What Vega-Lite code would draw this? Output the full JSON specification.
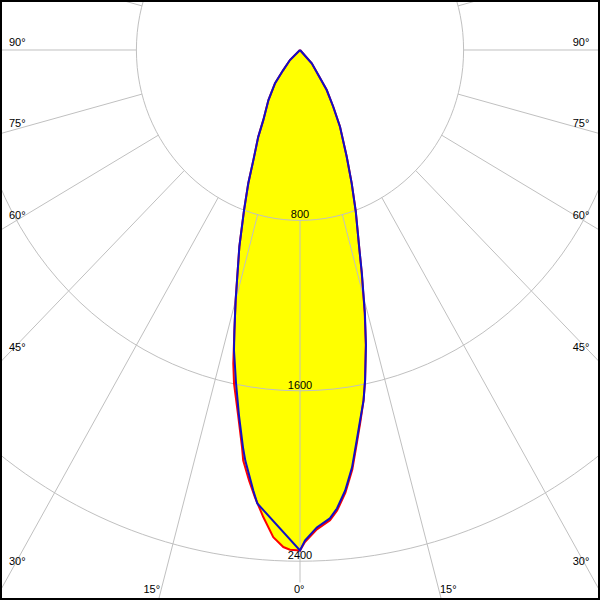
{
  "$schema": "https://vega.github.io/schema/vega-lite/v6.json",
  "width": 596,
  "height": 596,
  "padding": 2,
  "autosize": {"type": "none"},
  "background": "black",
  "config": {
    "view": {"fill": "white", "stroke": null},
    "text": {"font": "Liberation Sans", "fontSize": 11, "fill": "#000000"}
  },
  "datasets": {
    "curves": [
      {"s":"red","i":0,"a":-46,"r":0},{"s":"red","i":1,"a":-46.2,"r":68},{"s":"red","i":2,"a":-41,"r":125},{"s":"red","i":3,"a":-38,"r":198},{"s":"red","i":4,"a":-33.3,"r":281},{"s":"red","i":5,"a":-28.6,"r":375},{"s":"red","i":6,"a":-26.6,"r":456},{"s":"red","i":7,"a":-23.8,"r":565},{"s":"red","i":8,"a":-22,"r":675},{"s":"red","i":9,"a":-20,"r":800},{"s":"red","i":10,"a":-17.8,"r":970},{"s":"red","i":11,"a":-15.9,"r":1124},{"s":"red","i":12,"a":-15,"r":1216},{"s":"red","i":13,"a":-13.7,"r":1354},{"s":"red","i":14,"a":-12.5,"r":1507},{"s":"red","i":15,"a":-11.65,"r":1598},{"s":"red","i":16,"a":-10,"r":1742},{"s":"red","i":17,"a":-8.64,"r":1887},{"s":"red","i":18,"a":-8.2,"r":1947},{"s":"red","i":19,"a":-7.03,"r":2036},{"s":"red","i":20,"a":-6,"r":2111},{"s":"red","i":21,"a":-4.68,"r":2200},{"s":"red","i":22,"a":-3.27,"r":2291},{"s":"red","i":23,"a":-2,"r":2335},{"s":"red","i":24,"a":-1.2,"r":2347},{"s":"red","i":25,"a":0,"r":2350},{"s":"red","i":26,"a":0.6,"r":2310},{"s":"red","i":27,"a":2.1,"r":2252},{"s":"red","i":28,"a":3.8,"r":2213},{"s":"red","i":29,"a":4.8,"r":2170},{"s":"red","i":30,"a":6.1,"r":2090},{"s":"red","i":31,"a":7.4,"r":1986},{"s":"red","i":32,"a":8.6,"r":1863},{"s":"red","i":33,"a":9.6,"r":1770},{"s":"red","i":34,"a":10.7,"r":1674},{"s":"red","i":35,"a":11.6,"r":1583},{"s":"red","i":36,"a":13.1,"r":1420},{"s":"red","i":37,"a":14.4,"r":1272},{"s":"red","i":38,"a":16.1,"r":1088},{"s":"red","i":39,"a":17.3,"r":975},{"s":"red","i":40,"a":19.8,"r":805},{"s":"red","i":41,"a":22,"r":675},{"s":"red","i":42,"a":24.5,"r":551},{"s":"red","i":43,"a":28.5,"r":410},{"s":"red","i":44,"a":31.4,"r":312},{"s":"red","i":45,"a":34.8,"r":229},{"s":"red","i":46,"a":37.3,"r":148},{"s":"red","i":47,"a":42.5,"r":85},{"s":"red","i":48,"a":46,"r":0},
      {"s":"blue","i":0,"a":-46,"r":0},{"s":"blue","i":1,"a":-46.2,"r":68},{"s":"blue","i":2,"a":-41,"r":125},{"s":"blue","i":3,"a":-38,"r":198},{"s":"blue","i":4,"a":-33.3,"r":281},{"s":"blue","i":5,"a":-28.6,"r":375},{"s":"blue","i":6,"a":-26.6,"r":456},{"s":"blue","i":7,"a":-23.8,"r":565},{"s":"blue","i":8,"a":-22,"r":675},{"s":"blue","i":9,"a":-20,"r":800},{"s":"blue","i":10,"a":-17.8,"r":970},{"s":"blue","i":11,"a":-15.9,"r":1124},{"s":"blue","i":12,"a":-15,"r":1216},{"s":"blue","i":13,"a":-13.7,"r":1354},{"s":"blue","i":14,"a":-12.9,"r":1446},{"s":"blue","i":15,"a":-11.3,"r":1596},{"s":"blue","i":16,"a":-9.87,"r":1741},{"s":"blue","i":17,"a":-8.5,"r":1886},{"s":"blue","i":18,"a":-7.9,"r":1946},{"s":"blue","i":19,"a":-6.3,"r":2081},{"s":"blue","i":20,"a":-5.6,"r":2139},{"s":"blue","i":21,"a":0,"r":2350},{"s":"blue","i":22,"a":0.6,"r":2303},{"s":"blue","i":23,"a":2.1,"r":2243},{"s":"blue","i":24,"a":3.8,"r":2204},{"s":"blue","i":25,"a":4.8,"r":2160},{"s":"blue","i":26,"a":6.1,"r":2080},{"s":"blue","i":27,"a":7.4,"r":1976},{"s":"blue","i":28,"a":8.6,"r":1854},{"s":"blue","i":29,"a":9.6,"r":1763},{"s":"blue","i":30,"a":10.7,"r":1674},{"s":"blue","i":31,"a":11.6,"r":1583},{"s":"blue","i":32,"a":13.1,"r":1423},{"s":"blue","i":33,"a":14.4,"r":1276},{"s":"blue","i":34,"a":16.1,"r":1091},{"s":"blue","i":35,"a":17.3,"r":975},{"s":"blue","i":36,"a":19.8,"r":805},{"s":"blue","i":37,"a":22,"r":675},{"s":"blue","i":38,"a":24.5,"r":551},{"s":"blue","i":39,"a":28.5,"r":410},{"s":"blue","i":40,"a":31.4,"r":312},{"s":"blue","i":41,"a":34.8,"r":229},{"s":"blue","i":42,"a":37.3,"r":148},{"s":"blue","i":43,"a":42.5,"r":85},{"s":"blue","i":44,"a":46,"r":0}
    ],
    "circles": [{"r":800,"t":"800"},{"r":1600,"t":"1600"},{"r":2400,"t":"2400"}],
    "spokes": [
      {"a":-165,"r1":800,"r2":4000},{"a":-150,"r1":800,"r2":4000},{"a":-135,"r1":800,"r2":4000},{"a":-120,"r1":800,"r2":4000},{"a":-105,"r1":800,"r2":4000},{"a":-90,"r1":800,"r2":4000},{"a":-75,"r1":800,"r2":4000},{"a":-60,"r1":800,"r2":4000},{"a":-45,"r1":800,"r2":4000},{"a":-30,"r1":800,"r2":4000},{"a":-15,"r1":800,"r2":4000},{"a":0,"r1":800,"r2":2500},{"a":15,"r1":800,"r2":4000},{"a":30,"r1":800,"r2":4000},{"a":45,"r1":800,"r2":4000},{"a":60,"r1":800,"r2":4000},{"a":75,"r1":800,"r2":4000},{"a":90,"r1":800,"r2":4000},{"a":105,"r1":800,"r2":4000},{"a":120,"r1":800,"r2":4000},{"a":135,"r1":800,"r2":4000},{"a":150,"r1":800,"r2":4000},{"a":165,"r1":800,"r2":4000},{"a":180,"r1":800,"r2":4000}
    ],
    "labels": [
      {"t":"90°","x":-1423,"y":20},{"t":"75°","x":-1423,"y":-363},{"t":"60°","x":-1423,"y":-795},{"t":"45°","x":-1423,"y":-1413},{"t":"30°","x":-1423,"y":-2418},
      {"t":"15°","x":-725,"y":-2549},{"t":"0°","x":-4,"y":-2549},{"t":"15°","x":725,"y":-2549},
      {"t":"90°","x":1415,"y":20},{"t":"75°","x":1415,"y":-363},{"t":"60°","x":1415,"y":-795},{"t":"45°","x":1415,"y":-1413},{"t":"30°","x":1415,"y":-2418}
    ]
  },
  "layer": [
    {
      "data": {"name": "curves"},
      "transform": [
        {"filter": "datum.s === 'red'"},
        {"calculate": "datum.r * sin(datum.a * PI / 180)", "as": "x"},
        {"calculate": "-datum.r * cos(datum.a * PI / 180)", "as": "y"}
      ],
      "mark": {"type": "line", "interpolate": "linear-closed", "fill": "#ffff00", "stroke": null, "strokeWidth": 0, "clip": true},
      "encoding": {
        "x": {"field": "x", "type": "quantitative", "scale": {"domain": [-1457.2, 1457.2], "nice": false, "zero": false}, "axis": null},
        "y": {"field": "y", "type": "quantitative", "scale": {"domain": [-2572.8, 225.35], "nice": false, "zero": false}, "axis": null},
        "order": {"field": "i", "type": "quantitative"}
      }
    },
    {
      "data": {"name": "circles"},
      "mark": {"type": "point", "shape": "M1,0C1,0.5753,0.5523,1.0416,0,1.0416C-0.5523,1.0416,-1,0.5753,-1,0C-1,-0.5753,-0.5523,-1.0416,0,-1.0416C0.5523,-1.0416,1,-0.5753,1,0Z", "filled": false, "stroke": "#c0c0c0", "strokeWidth": 1, "opacity": 1, "clip": true},
      "encoding": {
        "x": {"datum": 0, "type": "quantitative"},
        "y": {"datum": 0, "type": "quantitative"},
        "size": {"field": "r", "type": "quantitative", "scale": {"type": "pow", "exponent": 2, "domain": [0, 2400], "range": [0, 963539]}, "legend": null}
      }
    },
    {
      "data": {"name": "spokes"},
      "transform": [
        {"calculate": "datum.r1 * sin(datum.a * PI / 180)", "as": "x1"},
        {"calculate": "-datum.r1 * cos(datum.a * PI / 180)", "as": "y1"},
        {"calculate": "datum.r2 * sin(datum.a * PI / 180)", "as": "x2"},
        {"calculate": "-datum.r2 * cos(datum.a * PI / 180)", "as": "y2"}
      ],
      "mark": {"type": "rule", "color": "#c0c0c0", "strokeWidth": 1, "clip": true},
      "encoding": {
        "x": {"field": "x1", "type": "quantitative"},
        "y": {"field": "y1", "type": "quantitative"},
        "x2": {"field": "x2"},
        "y2": {"field": "y2"}
      }
    },
    {
      "data": {"name": "curves"},
      "transform": [
        {"filter": "datum.s === 'red'"},
        {"calculate": "datum.r * sin(datum.a * PI / 180)", "as": "x"},
        {"calculate": "-datum.r * cos(datum.a * PI / 180)", "as": "y"}
      ],
      "mark": {"type": "line", "color": "#ff0000", "strokeWidth": 2, "clip": true},
      "encoding": {
        "x": {"field": "x", "type": "quantitative"},
        "y": {"field": "y", "type": "quantitative"},
        "order": {"field": "i", "type": "quantitative"}
      }
    },
    {
      "data": {"name": "curves"},
      "transform": [
        {"filter": "datum.s === 'blue'"},
        {"calculate": "datum.r * sin(datum.a * PI / 180)", "as": "x"},
        {"calculate": "-datum.r * cos(datum.a * PI / 180)", "as": "y"}
      ],
      "mark": {"type": "line", "color": "#1010c8", "strokeWidth": 2, "clip": true},
      "encoding": {
        "x": {"field": "x", "type": "quantitative"},
        "y": {"field": "y", "type": "quantitative"},
        "order": {"field": "i", "type": "quantitative"}
      }
    },
    {
      "data": {"name": "circles"},
      "transform": [{"calculate": "-datum.r", "as": "y"}],
      "mark": {"type": "text", "align": "center", "baseline": "alphabetic", "dy": -2, "fill": "#000000"},
      "encoding": {
        "x": {"datum": 0, "type": "quantitative"},
        "y": {"field": "y", "type": "quantitative"},
        "text": {"field": "t"}
      }
    },
    {
      "data": {"name": "labels"},
      "transform": [{"filter": "datum.x < -1000"}],
      "mark": {"type": "text", "align": "left", "baseline": "alphabetic", "fill": "#000000"},
      "encoding": {
        "x": {"field": "x", "type": "quantitative"},
        "y": {"field": "y", "type": "quantitative"},
        "text": {"field": "t"}
      }
    },
    {
      "data": {"name": "labels"},
      "transform": [{"filter": "datum.x > 1000"}],
      "mark": {"type": "text", "align": "right", "baseline": "alphabetic", "fill": "#000000"},
      "encoding": {
        "x": {"field": "x", "type": "quantitative"},
        "y": {"field": "y", "type": "quantitative"},
        "text": {"field": "t"}
      }
    },
    {
      "data": {"name": "labels"},
      "transform": [{"filter": "datum.x >= -1000 && datum.x <= 1000"}],
      "mark": {"type": "text", "align": "center", "baseline": "alphabetic", "fill": "#000000"},
      "encoding": {
        "x": {"field": "x", "type": "quantitative"},
        "y": {"field": "y", "type": "quantitative"},
        "text": {"field": "t"}
      }
    }
  ]
}
